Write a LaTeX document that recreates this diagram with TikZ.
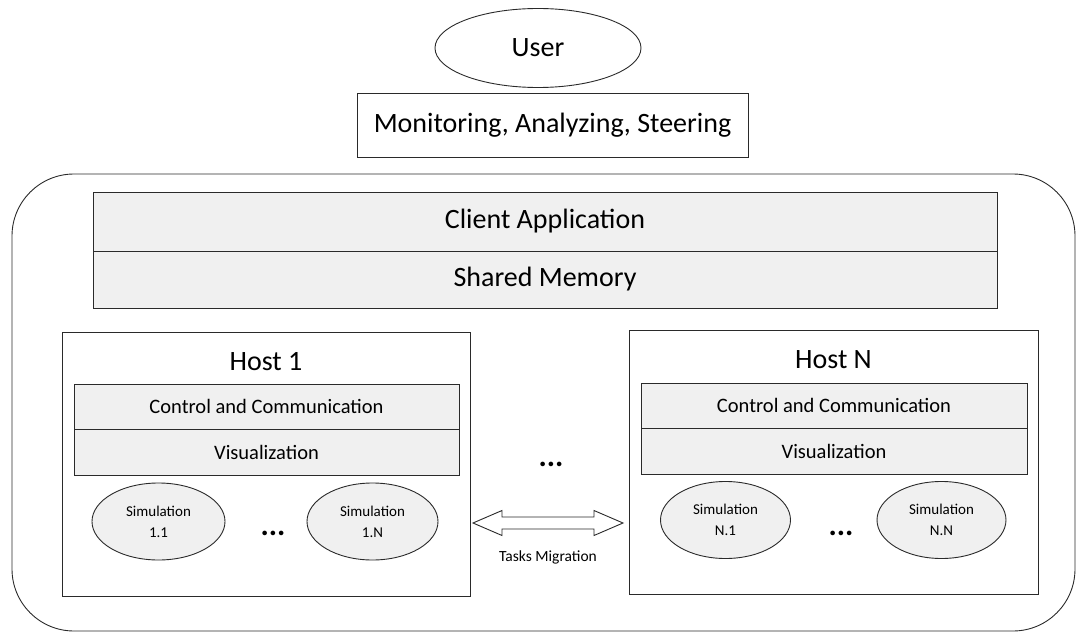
\documentclass[tikz,border=0pt]{standalone}
\usepackage{fontspec}
\setmainfont{Carlito}
\usetikzlibrary{shapes.geometric,calc}
\definecolor{boxfill}{HTML}{F0F0F0}
\definecolor{linec}{HTML}{2A2A2A}
\begin{document}
\begin{tikzpicture}[x=1pt,y=-1pt,
  every node/.style={inner sep=0pt, outer sep=0pt, text=black},
  plainbox/.style={draw=linec, line width=0.9pt, fill=white, rectangle},
  graybox/.style={draw=linec, line width=0.9pt, fill=boxfill, rectangle},
  bubble/.style={draw=linec, line width=0.9pt, ellipse},
  bigtext/.style={font=\fontsize{28}{30}\selectfont},
  midtext/.style={font=\fontsize{20.5}{24}\selectfont},
  simbubble/.style={draw=linec, line width=0.9pt, fill=boxfill, ellipse, align=center, font=\fontsize{15}{21}\selectfont},
  dots/.style={anchor=base, font=\fontsize{31}{31}\selectfont\bfseries},
  outline/.style={draw=linec, line width=0.9pt, fill=white}]
\useasboundingbox (0,0) rectangle (1077,634);
% user
\node[bubble, minimum width=206pt, minimum height=79pt, bigtext] (user) at (538,48) {User};
\node[plainbox, minimum width=391pt, minimum height=64pt, bigtext] (mas) at (552.5,125) {Monitoring, Analyzing, Steering};
% outer container
\draw[draw=linec, line width=0.9pt, rounded corners=62pt] (12,174) rectangle (1075,631);
\node[graybox, minimum width=904pt, minimum height=59pt, bigtext] (client) at (545,221.5) {Client Application};
\node[graybox, minimum width=904pt, minimum height=57pt, bigtext, anchor=north] (shm) at (client.south) {Shared Memory};
% host 1
\node[plainbox, minimum width=408pt, minimum height=264pt] (h1) at (266,464) {};
\node[bigtext] (h1l) at (266,362) {Host 1};
\node[graybox, minimum width=385pt, minimum height=45pt, midtext] (cc1) at (266.5,406.5) {Control and Communication};
\node[graybox, minimum width=385pt, minimum height=46pt, midtext, anchor=north] (vis1) at (cc1.south) {Visualization};
\node[simbubble, minimum width=133pt, minimum height=77pt] (s11) at (158.5,521.5) {Simulation\\1.1};
\node[simbubble, minimum width=131pt, minimum height=77pt] (s1n) at (372.5,521.5) {Simulation\\1.N};
\node[dots] (d1) at (273,535) {...};
% host N
\node[plainbox, minimum width=409pt, minimum height=264pt] (hn) at (833.5,462) {};
\node[bigtext] (hnl) at (833.5,360) {Host N};
\node[graybox, minimum width=386pt, minimum height=45pt, midtext] (ccn) at (834,405.5) {Control and Communication};
\node[graybox, minimum width=386pt, minimum height=46pt, midtext, anchor=north] (visn) at (ccn.south) {Visualization};
\node[simbubble, minimum width=130pt, minimum height=77pt] (sn1) at (725.5,520) {Simulation\\N.1};
\node[simbubble, minimum width=129pt, minimum height=77pt] (snn) at (941.5,520) {Simulation\\N.N};
\node[dots] (dn) at (841,535) {...};
% middle dots
\node[dots] (dm) at (551,466) {...};
% migration arrow
\coordinate (lt) at ($(h1.east |- 0,523)+(3,0)$);
\coordinate (rt) at ($(hn.west |- 0,523)+(-6,0)$);
\draw[outline] (lt) -- ($(lt)+(29,-12.5)$) -- ($(lt)+(29,-6)$) -- ($(rt)+(-29,-6)$) -- ($(rt)+(-29,-12.5)$) -- (rt)
  -- ($(rt)+(-29,12.5)$) -- ($(rt)+(-29,6)$) -- ($(lt)+(29,6)$) -- ($(lt)+(29,12.5)$) -- cycle;
\node[font=\fontsize{15.5}{18}\selectfont] (tm) at (548,557) {Tasks Migration};
\end{tikzpicture}
\end{document}
